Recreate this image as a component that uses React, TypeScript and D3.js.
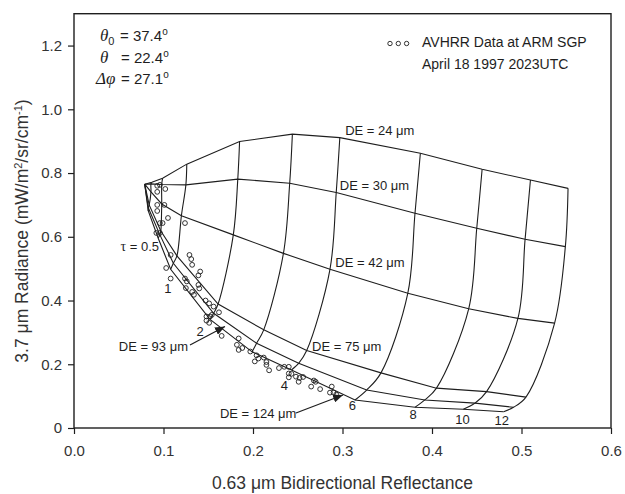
import React, { useEffect, useRef } from "react";
import * as d3 from "d3";

// optical depth of each node along a DE curve
const TAU = [0, 0.25, 0.5, 1, 2, 3, 4, 6, 8, 10, 12];
const DE = [24, 30, 42, 75, 93, 124];

// 0.63um reflectance / 3.7um radiance for each DE, one value per TAU
const refl24 = [0.079, 0.087, 0.099, 0.126, 0.185, 0.244, 0.297, 0.387, 0.456, 0.51, 0.552];
const rad24 = [0.765, 0.771, 0.784, 0.828, 0.899, 0.922, 0.911, 0.862, 0.812, 0.778, 0.752];
const refl30 = [0.079, 0.086, 0.098, 0.125, 0.183, 0.241, 0.293, 0.381, 0.45, 0.504, 0.549];
const rad30 = [0.765, 0.766, 0.764, 0.763, 0.781, 0.768, 0.739, 0.674, 0.627, 0.592, 0.569];
const refl42 = [0.079, 0.086, 0.098, 0.12, 0.178, 0.234, 0.286, 0.373, 0.441, 0.496, 0.537];
const rad42 = [0.765, 0.741, 0.703, 0.666, 0.606, 0.548, 0.498, 0.423, 0.374, 0.344, 0.329];
const refl75 = [0.079, 0.084, 0.097, 0.115, 0.161, 0.212, 0.26, 0.343, 0.405, 0.461, 0.505];
const rad75 = [0.765, 0.7, 0.618, 0.54, 0.389, 0.308, 0.243, 0.173, 0.125, 0.114, 0.097];
const refl93 = [0.079, 0.083, 0.096, 0.111, 0.156, 0.204, 0.251, 0.327, 0.392, 0.448, 0.491];
const rad93 = [0.765, 0.691, 0.606, 0.517, 0.36, 0.266, 0.203, 0.119, 0.088, 0.078, 0.065];
const refl124 = [0.079, 0.083, 0.094, 0.108, 0.152, 0.199, 0.243, 0.314, 0.381, 0.435, 0.48];
const rad124 = [0.765, 0.681, 0.596, 0.498, 0.341, 0.239, 0.182, 0.088, 0.065, 0.059, 0.051];

const REFL = [refl24, refl30, refl42, refl75, refl93, refl124];
const RAD = [rad24, rad30, rad42, rad75, rad93, rad124];

// AVHRR pixels at ARM SGP
const obsRefl = [
  0.093, 0.096, 0.102, 0.093, 0.093, 0.101, 0.093, 0.105, 0.096, 0.099, 0.124, 0.092, 0.096,
  0.108, 0.129, 0.131, 0.132, 0.103, 0.108, 0.141, 0.139, 0.124, 0.126, 0.125, 0.132, 0.134,
  0.139, 0.14, 0.147, 0.151, 0.156, 0.162, 0.148, 0.152, 0.154, 0.148, 0.151, 0.165, 0.184,
  0.182, 0.188, 0.184, 0.197, 0.204, 0.206, 0.212, 0.202, 0.215, 0.215, 0.218, 0.229, 0.235,
  0.24, 0.24, 0.243, 0.24, 0.248, 0.252, 0.256, 0.251, 0.268, 0.27, 0.265, 0.275, 0.288,
  0.286, 0.29, 0.293,
];
const obsRad = [
  0.76, 0.763, 0.75, 0.741, 0.7, 0.7, 0.681, 0.659, 0.643, 0.643, 0.643, 0.612, 0.612,
  0.543, 0.543, 0.53, 0.512, 0.502, 0.469, 0.491, 0.479, 0.469, 0.46, 0.439, 0.427, 0.418,
  0.449, 0.438, 0.4, 0.391, 0.381, 0.363, 0.35, 0.35, 0.355, 0.337, 0.33, 0.289, 0.281,
  0.261, 0.251, 0.245, 0.24, 0.228, 0.218, 0.221, 0.209, 0.207, 0.198, 0.181, 0.188, 0.192,
  0.192, 0.171, 0.17, 0.159, 0.161, 0.157, 0.16, 0.145, 0.149, 0.145, 0.13, 0.122, 0.13,
  0.111, 0.111, 0.105,
];

const xTicks = [0, 0.1, 0.2, 0.3, 0.4, 0.5, 0.6];
const yTicks = [0, 0.2, 0.4, 0.6, 0.8, 1.0, 1.2];

// labels placed in data units
const deLabels = [
  { text: "DE = 24 μm", x: 0.303, y: 0.92 },
  { text: "DE = 30 μm", x: 0.297, y: 0.747 },
  { text: "DE = 42 μm", x: 0.292, y: 0.505 },
  { text: "DE = 75 μm", x: 0.266, y: 0.242 },
  { text: "DE = 93 μm", x: 0.05, y: 0.242 },
  { text: "DE = 124 μm", x: 0.163, y: 0.031 },
];
const tauLabels = [
  { text: "1", x: 0.105, y: 0.424 },
  { text: "2", x: 0.141, y: 0.289 },
  { text: "4", x: 0.235, y: 0.119 },
  { text: "6", x: 0.311, y: 0.0565 },
  { text: "8", x: 0.379, y: 0.028 },
  { text: "10", x: 0.434, y: 0.0126 },
  { text: "12", x: 0.478, y: 0.0094 },
];
const arrows = [
  { x1: 0.1296, y1: 0.2605, x2: 0.1687, y2: 0.3186 },
  { x1: 0.248, y1: 0.047, x2: 0.3006, y2: 0.1036 },
];

const W = 625;
const H = 494;
const SANS = "'Liberation Sans', Arial, Helvetica, sans-serif";
const SERIF = "'Liberation Serif', 'Times New Roman', serif";
const INK = "#1e1e1e";

export default function App() {
  const ref = useRef<SVGSVGElement | null>(null);

  useEffect(() => {
    const svg = d3.select(ref.current);
    svg.selectAll("*").remove();

    const x = d3.scaleLinear().domain([0, 0.6]).range([74, 611]);
    const y = d3.scaleLinear().domain([0, 1.3]).range([428, 13.7]);

    svg
      .append("defs")
      .append("marker")
      .attr("id", "arrowhead")
      .attr("markerUnits", "userSpaceOnUse")
      .attr("markerWidth", 10)
      .attr("markerHeight", 8)
      .attr("refX", 10)
      .attr("refY", 4)
      .attr("orient", "auto")
      .append("path")
      .attr("d", "M0,0 L10,4 L0,8 Z")
      .attr("fill", INK);

    // axes
    const xAxis = svg
      .append("g")
      .attr("transform", `translate(0,${y(0)})`)
      .call(
        d3.axisBottom(x).tickValues(xTicks).tickFormat(d3.format(".1f")).tickSize(6).tickSizeOuter(0).tickPadding(11)
      );
    const yAxis = svg
      .append("g")
      .attr("transform", `translate(${x(0)},0)`)
      .call(
        d3
          .axisLeft(y)
          .tickValues(yTicks)
          .tickFormat((d) => (+d === 0 ? "0" : d3.format(".1f")(+d)))
          .tickSize(6)
          .tickSizeOuter(0)
          .tickPadding(6)
      );
    [xAxis, yAxis].forEach((g) => {
      g.select(".domain").remove();
      g.selectAll("line").attr("stroke", INK).attr("stroke-width", 1.2);
      g.selectAll("text").attr("fill", "#333").style("font-family", SANS).style("font-size", "15px");
    });

    // frame
    svg
      .append("rect")
      .attr("x", x(0))
      .attr("y", y(1.3))
      .attr("width", x(0.6) - x(0))
      .attr("height", y(0) - y(1.3))
      .attr("fill", "none")
      .attr("stroke", INK)
      .attr("stroke-width", 1.4);

    // lookup table grid
    const nodes = DE.map((_, i) => TAU.map((_, j) => [REFL[i][j], RAD[i][j]] as [number, number]));
    const grid = svg.append("g").attr("fill", "none").attr("stroke", INK).attr("stroke-width", 1.1);

    const deLine = d3
      .line<[number, number]>()
      .x((d) => x(d[0]))
      .y((d) => y(d[1]));
    grid
      .selectAll("path.de")
      .data(nodes)
      .join("path")
      .attr("class", "de")
      .attr("d", (d) => deLine(d));

    const tauLine = d3
      .line<[number, number]>()
      .x((d) => x(d[0]))
      .y((d) => y(d[1]))
      .curve(d3.curveCatmullRom.alpha(0.5));
    const tauCurves = TAU.slice(1).map((_, k) => DE.map((_, i) => nodes[i][k + 1]));
    grid
      .selectAll("path.tau")
      .data(tauCurves)
      .join("path")
      .attr("class", "tau")
      .attr("d", (d) => tauLine(d));

    // observations
    svg
      .append("g")
      .selectAll("circle")
      .data(obsRefl.map((r, i) => [r, obsRad[i]]))
      .join("circle")
      .attr("cx", (d) => x(d[0]))
      .attr("cy", (d) => y(d[1]))
      .attr("r", 2.4)
      .attr("fill", "none")
      .attr("stroke", INK)
      .attr("stroke-width", 0.9);

    // labels
    const lab = svg.append("g").style("font-family", SANS).style("font-size", "13px").attr("fill", INK);
    lab
      .selectAll("text.de")
      .data(deLabels)
      .join("text")
      .attr("class", "de")
      .attr("x", (d) => x(d.x))
      .attr("y", (d) => y(d.y))
      .text((d) => d.text);
    lab
      .selectAll("text.tau")
      .data(tauLabels)
      .join("text")
      .attr("class", "tau")
      .attr("x", (d) => x(d.x))
      .attr("y", (d) => y(d.y))
      .attr("text-anchor", "middle")
      .text((d) => d.text);
    const t05 = lab.append("text").attr("x", x(0.095)).attr("y", y(0.556)).attr("text-anchor", "end");
    t05.append("tspan").style("font-family", SERIF).style("font-size", "14px").text("τ");
    t05.append("tspan").text(" = 0.5");

    svg
      .append("g")
      .selectAll("line")
      .data(arrows)
      .join("line")
      .attr("x1", (d) => x(d.x1))
      .attr("y1", (d) => y(d.y1))
      .attr("x2", (d) => x(d.x2))
      .attr("y2", (d) => y(d.y2))
      .attr("stroke", INK)
      .attr("stroke-width", 1.2)
      .attr("marker-end", "url(#arrowhead)");

    // geometry block
    const geo = svg.append("g").style("font-family", SANS).style("font-size", "15px").attr("fill", INK);
    const rows = [
      { sym: "θ", sub: "0", val: "= 37.4", sx: 100, vx: 120, by: 40.5 },
      { sym: "θ", sub: "", val: "= 22.4", sx: 100, vx: 121, by: 62.5 },
      { sym: "Δφ", sub: "", val: "= 27.1", sx: 96, vx: 121, by: 84 },
    ];
    rows.forEach((r) => {
      const t = geo.append("text").attr("x", r.sx).attr("y", r.by);
      t.append("tspan").style("font-family", SERIF).style("font-style", "italic").style("font-size", "17px").text(r.sym);
      if (r.sub) t.append("tspan").attr("dy", 4).style("font-size", "11px").text(r.sub);
      const v = geo.append("text").attr("x", r.vx).attr("y", r.by);
      v.append("tspan").text(r.val);
      v.append("tspan").attr("dy", -6).style("font-size", "10px").text("o");
    });

    // legend
    const leg = svg.append("g");
    [390, 398.3, 406.6].forEach((cx) =>
      leg
        .append("circle")
        .attr("cx", cx)
        .attr("cy", 43.5)
        .attr("r", 2.2)
        .attr("fill", "none")
        .attr("stroke", INK)
        .attr("stroke-width", 0.9)
    );
    leg
      .append("text")
      .attr("x", 422)
      .attr("y", 47)
      .style("font-family", SANS)
      .style("font-size", "14px")
      .attr("fill", INK)
      .text("AVHRR Data at ARM SGP");
    leg
      .append("text")
      .attr("x", 422)
      .attr("y", 68.5)
      .style("font-family", SANS)
      .style("font-size", "14px")
      .attr("fill", INK)
      .text("April 18 1997 2023UTC");

    // axis titles
    svg
      .append("text")
      .attr("x", (x(0) + x(0.6)) / 2)
      .attr("y", 489)
      .attr("text-anchor", "middle")
      .style("font-family", SANS)
      .style("font-size", "17.5px")
      .attr("fill", "#333")
      .text("0.63 μm Bidirectional Reflectance");

    const yt = svg
      .append("text")
      .attr("transform", "translate(28,231) rotate(-90)")
      .attr("text-anchor", "middle")
      .style("font-family", SANS)
      .style("font-size", "17.5px")
      .attr("fill", "#333");
    yt.append("tspan").text("3.7 μm Radiance (mW/m");
    yt.append("tspan").attr("dy", -6).style("font-size", "11px").text("2");
    yt.append("tspan").attr("dy", 6).text("/sr/cm");
    yt.append("tspan").attr("dy", -6).style("font-size", "11px").text("-1");
    yt.append("tspan").attr("dy", 6).text(")");
  }, []);

  return (
    <svg
      ref={ref}
      width={W}
      height={H}
      style={{ position: "absolute", left: 0, top: 0, background: "#ffffff", display: "block" }}
    />
  );
}
